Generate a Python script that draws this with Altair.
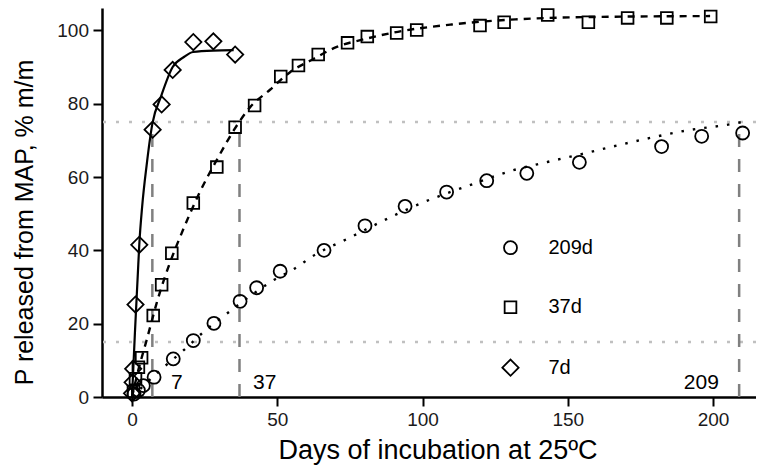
import altair as alt
import pandas as pd

series_names = ["209d", "37d", "7d"]

obs209_day = [0.7, 2.2, 3.9, 7.6, 14.2, 21.1, 28.2, 37.2, 42.9, 51.0, 66.1, 80.2, 94.0,
              108.3, 122.1, 135.9, 154.0, 182.3, 196.1, 210.2]
obs209_val = [0.8, 1.8, 3.1, 5.4, 10.4, 15.4, 20.1, 26.1, 29.8, 34.3, 40.0, 46.7, 52.0,
              55.9, 59.0, 61.0, 64.0, 68.3, 71.1, 72.0]

obs37_day = [0.5, 1.2, 2.2, 3.3, 7.3, 10.2, 13.7, 21.1, 29.2, 35.5, 42.2, 51.2, 57.3, 64.1,
             74.2, 81.0, 91.1, 98.0, 119.8, 128.1, 143.1, 157.1, 170.6, 184.1, 199.2]
obs37_val = [1.5, 5.0, 8.1, 10.7, 22.2, 30.6, 39.2, 52.9, 62.7, 73.6, 79.5, 87.4, 90.4, 93.4,
             96.6, 98.3, 99.3, 100.1, 101.3, 102.2, 104.2, 102.2, 103.4, 103.4, 103.8]

obs7_day = [0.0, 0.2, 0.4, 1.2, 2.5, 7.1, 10.2, 14.0, 21.1, 28.0, 35.5]
obs7_val = [1.0, 4.0, 7.7, 25.2, 41.5, 72.9, 79.8, 89.2, 96.8, 97.0, 93.4]

# ---- fitted curves ----
fit209_day = [0, 9, 17.7, 25, 32.6, 40.6, 48.6, 55.5, 63, 74, 78.5, 91, 100, 116, 131, 143,
              155, 167, 178, 191, 206, 210]
fit209_val = [0, 6.8, 12.7, 18, 22.7, 27.5, 31.8, 34.8, 38.8, 43.1, 44.9, 49.8, 53, 57.7,
              61.8, 64.1, 66.3, 68.6, 70.6, 72.7, 74.4, 75]

fit37_day = [0, 2, 5, 9, 13, 17, 23.4, 29.7, 35, 40.6, 47.5, 54.4, 62, 70.5, 80, 90, 110,
             132, 155, 199]
fit37_val = [0, 6.8, 15.4, 27, 36.5, 44.5, 56, 65.4, 72.7, 79, 83.8, 88.6, 92, 95.5, 97.6,
             99.4, 101.6, 103, 103.6, 103.9]

fit7_day = [0, 1, 2, 2.5, 3.5, 5, 7, 10, 14, 18, 21, 28, 35]
fit7_val = [0, 17.5, 33.5, 41.5, 52, 63, 74.5, 82, 90, 92.8, 94.1, 94.5, 94.6]

# ---- reference lines and labels ----
threshold_levels = [15, 75]
release_days = [7, 37, 209]
release_labels = ["7", "37", "209"]
label_day = [15.4, 45.7, 196.0]
label_val = [3.7, 3.7, 3.7]

x_ticks = [0, 50, 100, 150, 200]
y_ticks = [0, 20, 40, 60, 80, 100]

FONT = "Liberation Sans"

pts = pd.concat([
    pd.DataFrame({"day": obs209_day, "val": obs209_val, "series": "209d"}),
    pd.DataFrame({"day": obs37_day, "val": obs37_val, "series": "37d"}),
    pd.DataFrame({"day": obs7_day, "val": obs7_val, "series": "7d"}),
])
f209 = pd.DataFrame({"day": fit209_day, "val": fit209_val})
f37 = pd.DataFrame({"day": fit37_day, "val": fit37_val})
f7 = pd.DataFrame({"day": fit7_day, "val": fit7_val})
hl = pd.DataFrame({"level": threshold_levels})
vl = pd.DataFrame({"day": release_days, "lo": [0] * 3, "hi": [max(threshold_levels)] * 3})
lab = pd.DataFrame({"day": label_day, "val": label_val, "txt": release_labels})

xscale = alt.Scale(domain=[-10.33, 214.8], nice=False, zero=False)
yscale = alt.Scale(domain=[0, 106.1], nice=False, zero=False)

x_axis = alt.Axis(values=x_ticks, title="Days of incubation at 25ºC", titleFontSize=27,
                  titleX=335.5, titleY=61, titleBaseline="alphabetic", labelPadding=4,
                  format="d")
y_axis = alt.Axis(values=y_ticks, title="P released from MAP, % m/m", titleFontSize=25,
                  titleX=-70, titleY=214, titleBaseline="alphabetic", labelPadding=4.5,
                  format="d")


def X(field):
    return alt.X(f"{field}:Q", scale=xscale, axis=x_axis)


def Y(field):
    return alt.Y(f"{field}:Q", scale=yscale, axis=y_axis)


hrules = alt.Chart(hl).mark_rule(color="#c0c0c0", strokeDash=[3, 10], strokeWidth=2.5).encode(
    y=Y("level"))
vrules = alt.Chart(vl).mark_rule(color="#808080", strokeDash=[13, 12], strokeWidth=2.5).encode(
    x=X("day"), y=Y("lo"), y2="hi")

line209 = alt.Chart(f209).mark_line(color="black", strokeWidth=2.4, strokeDash=[2.5, 9],
                                    interpolate="monotone").encode(x=X("day"), y=Y("val"))
line37 = alt.Chart(f37).mark_line(color="black", strokeWidth=2.4, strokeDash=[7, 6],
                                  interpolate="monotone").encode(x=X("day"), y=Y("val"))
line7 = alt.Chart(f7).mark_line(color="black", strokeWidth=2.2,
                                interpolate="monotone").encode(x=X("day"), y=Y("val"))

square_path = "M-0.9,-0.9L0.9,-0.9L0.9,0.9L-0.9,0.9Z"
diamond_path = "M-1.25,0L0,-1.25L1.25,0L0,1.25Z"

points = alt.Chart(pts).mark_point(filled=False, color="black", strokeWidth=1.8, size=169,
                                   opacity=1).encode(
    x=X("day"), y=Y("val"),
    shape=alt.Shape("series:N",
                    scale=alt.Scale(domain=series_names,
                                    range=["circle", square_path, diamond_path]),
                    legend=alt.Legend(title=None, orient="none", legendX=398.5, legendY=229.7,
                                      labelFontSize=20, labelFont=FONT, labelColor="black",
                                      rowPadding=38.5, labelOffset=28, symbolSize=169,
                                      symbolStrokeWidth=1.8, symbolStrokeColor="black",
                                      symbolFillColor="transparent", padding=0)),
)

labels = alt.Chart(lab).mark_text(font=FONT, fontSize=21, color="black", align="center",
                                  baseline="middle").encode(
    x=X("day"), y=Y("val"), text="txt:N")

chart = alt.layer(hrules, vrules, line209, line37, line7, points, labels).properties(
    width=654, height=389,
    autosize=alt.AutoSizeParams(type="none"),
    padding={"left": 94, "top": 0, "right": 0, "bottom": 70},
    background="white",
).configure_view(stroke=None).configure_axis(
    grid=False, domainColor="black", domainWidth=2.5, tickColor="black", tickWidth=2,
    tickSize=9, labelFont=FONT, labelFontSize=19, labelColor="#1a1a1a",
    titleFont=FONT, titleFontWeight="normal", titleColor="black",
)

chart.save("out.html", embed_options={"renderer": "svg", "actions": False})
